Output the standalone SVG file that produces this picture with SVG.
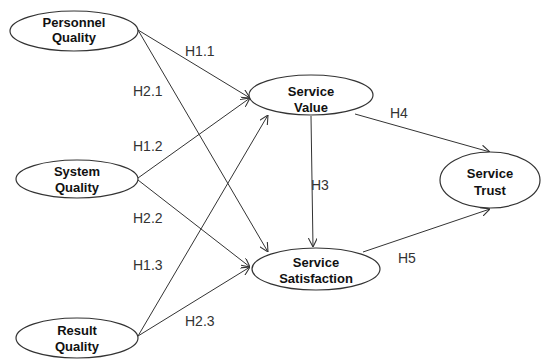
<svg xmlns="http://www.w3.org/2000/svg" width="543" height="361" viewBox="0 0 543 361">
<style>
.node ellipse{fill:#fff;stroke:#333;stroke-width:1.2}
.node text{font-family:"Liberation Sans",Arial,sans-serif;font-size:13px;font-weight:bold;fill:#111;text-anchor:middle}
.edges line{stroke:#333;stroke-width:1;marker-end:url(#arr)}
.lbl{font-family:"Liberation Sans",Arial,sans-serif;font-size:14px;fill:#333}
</style>
<defs>
<marker id="arr" viewBox="0 0 10 10" refX="10" refY="5" markerWidth="9" markerHeight="9" markerUnits="userSpaceOnUse" orient="auto">
<path d="M0,0 L10,5 L0,10" fill="none" stroke="#333" stroke-width="1.2"/>
</marker>
</defs>
<rect width="543" height="361" fill="#fff"/>
<g class="edges">
<line x1="138" y1="30" x2="250" y2="98"/>
<line x1="138" y1="30" x2="268" y2="252"/>
<line x1="138" y1="178" x2="250" y2="98"/>
<line x1="138" y1="180" x2="250" y2="267"/>
<line x1="138" y1="336" x2="268" y2="115"/>
<line x1="138" y1="336" x2="250" y2="267"/>
<line x1="311" y1="116" x2="313" y2="247"/>
<line x1="355" y1="114" x2="490" y2="152"/>
<line x1="363" y1="252" x2="490" y2="209"/>
</g>
<g id="labels">
<text class="lbl" x="185" y="56">H1.1</text>
<text class="lbl" x="133" y="96">H2.1</text>
<text class="lbl" x="133" y="151">H1.2</text>
<text class="lbl" x="133" y="223">H2.2</text>
<text class="lbl" x="133" y="270">H1.3</text>
<text class="lbl" x="185" y="326">H2.3</text>
<text class="lbl" x="311" y="190">H3</text>
<text class="lbl" x="390" y="118">H4</text>
<text class="lbl" x="398" y="263">H5</text>
</g>
<g id="personnel" class="node"><ellipse cx="74" cy="31" rx="64" ry="20"/><text x="74" y="27">Personnel</text><text x="74" y="42">Quality</text></g>
<g id="system" class="node"><ellipse cx="77" cy="179" rx="61" ry="19"/><text x="77" y="176">System</text><text x="77" y="192">Quality</text></g>
<g id="result" class="node"><ellipse cx="77" cy="338" rx="61" ry="20"/><text x="77" y="335">Result</text><text x="77" y="351">Quality</text></g>
<g id="value" class="node"><ellipse cx="311" cy="95" rx="62" ry="20"/><text x="311" y="96">Service</text><text x="311" y="112">Value</text></g>
<g id="satisfaction" class="node"><ellipse cx="316" cy="269" rx="64" ry="21"/><text x="316" y="267">Service</text><text x="316" y="283">Satisfaction</text></g>
<g id="trust" class="node"><ellipse cx="490" cy="180" rx="50" ry="28"/><text x="490" y="178">Service</text><text x="490" y="195">Trust</text></g>
</svg>
